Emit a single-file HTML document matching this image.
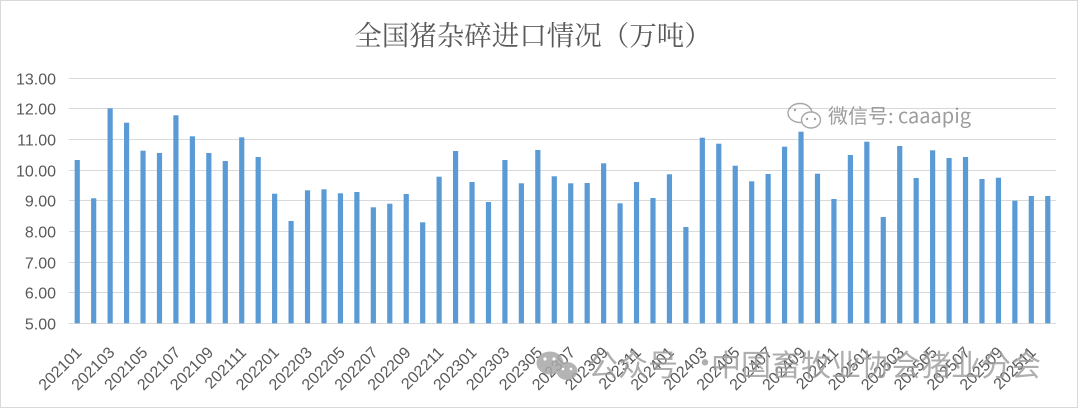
<!DOCTYPE html>
<html>
<head>
<meta charset="utf-8">
<style>
html,body{margin:0;padding:0;background:#fff;}
body{width:1080px;height:410px;overflow:hidden;}
svg{display:block;}
.yl{font-family:"Liberation Sans","Noto Sans CJK SC",sans-serif;font-size:16px;fill:#595959;text-anchor:end;}
.xl{font-family:"Liberation Sans","Noto Sans CJK SC",sans-serif;font-size:16px;fill:#595959;text-anchor:end;}
</style>
</head>
<body>
<svg width="1080" height="410" viewBox="0 0 1080 410" xmlns="http://www.w3.org/2000/svg">
<rect x="0" y="0" width="1080" height="410" fill="#fff"/>
<rect x="0.5" y="0.5" width="1077" height="407" fill="#fff" stroke="#d9d9d9" stroke-width="1"/>

<text x="533" y="45" text-anchor="middle" font-family="'Noto Serif CJK SC','Liberation Serif',serif" font-size="27.5" fill="#595959">全国猪杂碎进口情况（万吨）</text>

<!-- gridlines -->
<g stroke="#d9d9d9" stroke-width="1">
<line x1="69" y1="78.5" x2="1056" y2="78.5"/>
<line x1="69" y1="108.5" x2="1056" y2="108.5"/>
<line x1="69" y1="139.5" x2="1056" y2="139.5"/>
<line x1="69" y1="170.5" x2="1056" y2="170.5"/>
<line x1="69" y1="200.5" x2="1056" y2="200.5"/>
<line x1="69" y1="231.5" x2="1056" y2="231.5"/>
<line x1="69" y1="262.5" x2="1056" y2="262.5"/>
<line x1="69" y1="292.5" x2="1056" y2="292.5"/>
<line x1="69" y1="323.5" x2="1056" y2="323.5"/>
</g>

<!-- y labels -->
<text class="yl" x="56" y="84.5">13.00</text>
<text class="yl" x="56" y="114.5">12.00</text>
<text class="yl" x="56" y="145.5">11.00</text>
<text class="yl" x="56" y="176.5">10.00</text>
<text class="yl" x="56" y="206.5">9.00</text>
<text class="yl" x="56" y="237.5">8.00</text>
<text class="yl" x="56" y="268.5">7.00</text>
<text class="yl" x="56" y="298.5">6.00</text>
<text class="yl" x="56" y="329.5">5.00</text>

<!-- bars -->
<g fill="#5b9bd5">
<rect x="74.63" y="160" width="5.2" height="163.3"/>
<rect x="91.08" y="198.3" width="5.2" height="125"/>
<rect x="107.53" y="108.3" width="5.2" height="215"/>
<rect x="123.98" y="122.7" width="5.2" height="200.6"/>
<rect x="140.43" y="150.7" width="5.2" height="172.6"/>
<rect x="156.88" y="153" width="5.2" height="170.3"/>
<rect x="173.33" y="115.3" width="5.2" height="208"/>
<rect x="189.78" y="136.3" width="5.2" height="187"/>
<rect x="206.23" y="153" width="5.2" height="170.3"/>
<rect x="222.68" y="161" width="5.2" height="162.3"/>
<rect x="239.13" y="137.3" width="5.2" height="186"/>
<rect x="255.58" y="157" width="5.2" height="166.3"/>
<rect x="272.03" y="193.7" width="5.2" height="129.6"/>
<rect x="288.48" y="221" width="5.2" height="102.3"/>
<rect x="304.93" y="190.3" width="5.2" height="133"/>
<rect x="321.38" y="189.3" width="5.2" height="134"/>
<rect x="337.83" y="193.3" width="5.2" height="130"/>
<rect x="354.28" y="192" width="5.2" height="131.3"/>
<rect x="370.73" y="207.3" width="5.2" height="116"/>
<rect x="387.18" y="203.7" width="5.2" height="119.6"/>
<rect x="403.63" y="194" width="5.2" height="129.3"/>
<rect x="420.08" y="222.3" width="5.2" height="101"/>
<rect x="436.53" y="176.7" width="5.2" height="146.6"/>
<rect x="452.98" y="151" width="5.2" height="172.3"/>
<rect x="469.43" y="182" width="5.2" height="141.3"/>
<rect x="485.88" y="202" width="5.2" height="121.3"/>
<rect x="502.33" y="160" width="5.2" height="163.3"/>
<rect x="518.78" y="183.3" width="5.2" height="140"/>
<rect x="535.23" y="150" width="5.2" height="173.3"/>
<rect x="551.68" y="176.3" width="5.2" height="147"/>
<rect x="568.13" y="183.3" width="5.2" height="140"/>
<rect x="584.58" y="183" width="5.2" height="140.3"/>
<rect x="601.03" y="163.3" width="5.2" height="160"/>
<rect x="617.48" y="203.3" width="5.2" height="120"/>
<rect x="633.93" y="182" width="5.2" height="141.3"/>
<rect x="650.38" y="198" width="5.2" height="125.3"/>
<rect x="666.83" y="174.3" width="5.2" height="149"/>
<rect x="683.28" y="227" width="5.2" height="96.3"/>
<rect x="699.73" y="137.7" width="5.2" height="185.6"/>
<rect x="716.18" y="143.7" width="5.2" height="179.6"/>
<rect x="732.63" y="165.7" width="5.2" height="157.6"/>
<rect x="749.08" y="181.3" width="5.2" height="142"/>
<rect x="765.53" y="174" width="5.2" height="149.3"/>
<rect x="781.98" y="146.7" width="5.2" height="176.6"/>
<rect x="798.43" y="131.7" width="5.2" height="191.6"/>
<rect x="814.88" y="173.7" width="5.2" height="149.6"/>
<rect x="831.33" y="199" width="5.2" height="124.3"/>
<rect x="847.78" y="155" width="5.2" height="168.3"/>
<rect x="864.23" y="141.7" width="5.2" height="181.6"/>
<rect x="880.68" y="217" width="5.2" height="106.3"/>
<rect x="897.13" y="146" width="5.2" height="177.3"/>
<rect x="913.58" y="178" width="5.2" height="145.3"/>
<rect x="930.03" y="150.3" width="5.2" height="173"/>
<rect x="946.48" y="158" width="5.2" height="165.3"/>
<rect x="962.93" y="157" width="5.2" height="166.3"/>
<rect x="979.38" y="179" width="5.2" height="144.3"/>
<rect x="995.83" y="177.7" width="5.2" height="145.6"/>
<rect x="1012.28" y="200.7" width="5.2" height="122.6"/>
<rect x="1028.73" y="196" width="5.2" height="127.3"/>
<rect x="1045.18" y="196" width="5.2" height="127.3"/>
</g>

<!-- x labels -->
<g>
<text class="xl" transform="translate(82.7,353.5) rotate(-45)">202101</text>
<text class="xl" transform="translate(115.6,353.5) rotate(-45)">202103</text>
<text class="xl" transform="translate(148.5,353.5) rotate(-45)">202105</text>
<text class="xl" transform="translate(181.4,353.5) rotate(-45)">202107</text>
<text class="xl" transform="translate(214.3,353.5) rotate(-45)">202109</text>
<text class="xl" transform="translate(247.2,353.5) rotate(-45)">202111</text>
<text class="xl" transform="translate(280.1,353.5) rotate(-45)">202201</text>
<text class="xl" transform="translate(313.0,353.5) rotate(-45)">202203</text>
<text class="xl" transform="translate(345.9,353.5) rotate(-45)">202205</text>
<text class="xl" transform="translate(378.8,353.5) rotate(-45)">202207</text>
<text class="xl" transform="translate(411.7,353.5) rotate(-45)">202209</text>
<text class="xl" transform="translate(444.6,353.5) rotate(-45)">202211</text>
<text class="xl" transform="translate(477.5,353.5) rotate(-45)">202301</text>
<text class="xl" transform="translate(510.4,353.5) rotate(-45)">202303</text>
<text class="xl" transform="translate(543.3,353.5) rotate(-45)">202305</text>
<text class="xl" transform="translate(576.2,353.5) rotate(-45)">202307</text>
<text class="xl" transform="translate(609.1,353.5) rotate(-45)">202309</text>
<text class="xl" transform="translate(642.0,353.5) rotate(-45)">202311</text>
<text class="xl" transform="translate(674.9,353.5) rotate(-45)">202401</text>
<text class="xl" transform="translate(707.8,353.5) rotate(-45)">202403</text>
<text class="xl" transform="translate(740.7,353.5) rotate(-45)">202405</text>
<text class="xl" transform="translate(773.6,353.5) rotate(-45)">202407</text>
<text class="xl" transform="translate(806.5,353.5) rotate(-45)">202409</text>
<text class="xl" transform="translate(839.4,353.5) rotate(-45)">202411</text>
<text class="xl" transform="translate(872.3,353.5) rotate(-45)">202501</text>
<text class="xl" transform="translate(905.2,353.5) rotate(-45)">202503</text>
<text class="xl" transform="translate(938.1,353.5) rotate(-45)">202505</text>
<text class="xl" transform="translate(971.0,353.5) rotate(-45)">202507</text>
<text class="xl" transform="translate(1003.9,353.5) rotate(-45)">202509</text>
<text class="xl" transform="translate(1036.8,353.5) rotate(-45)">202511</text>
</g>

<!-- top watermark -->
<g opacity="0.75" fill="none" stroke="#8a8a8a" stroke-width="1.4">
<ellipse cx="800" cy="113" rx="12" ry="9.5"/>
<ellipse cx="811" cy="120" rx="9.5" ry="8" fill="#fff"/>
</g>
<g fill="#8a8a8a" opacity="0.8">
<circle cx="807" cy="119" r="1.2"/><circle cx="815" cy="119" r="1.2"/>
<circle cx="795" cy="110" r="1.2"/>
</g>
<text x="828" y="123" font-family="'Noto Sans CJK SC','Liberation Sans',sans-serif" font-size="20" fill="#8c8c8c" opacity="0.85">微信号: caaapig</text>

<!-- bottom watermark -->
<g fill="#a8a8a8" opacity="0.85">
<ellipse cx="550" cy="363" rx="13.5" ry="11.5"/>
<ellipse cx="567" cy="371" rx="10.5" ry="9"/>
</g>
<g fill="#fff">
<circle cx="545" cy="359" r="1.6"/><circle cx="554" cy="359" r="1.6"/>
<circle cx="563" cy="369" r="1.3"/><circle cx="571" cy="369" r="1.3"/>
</g>
<g font-family="'Noto Sans CJK SC','Liberation Sans',sans-serif" font-size="30" fill="#9a9a9a" opacity="0.8">
<text x="588" y="376">公众号</text>
<text x="690" y="374">·</text>
<text x="711" y="376">中国畜牧业协会猪业分会</text>
</g>
</svg>
</body>
</html>
